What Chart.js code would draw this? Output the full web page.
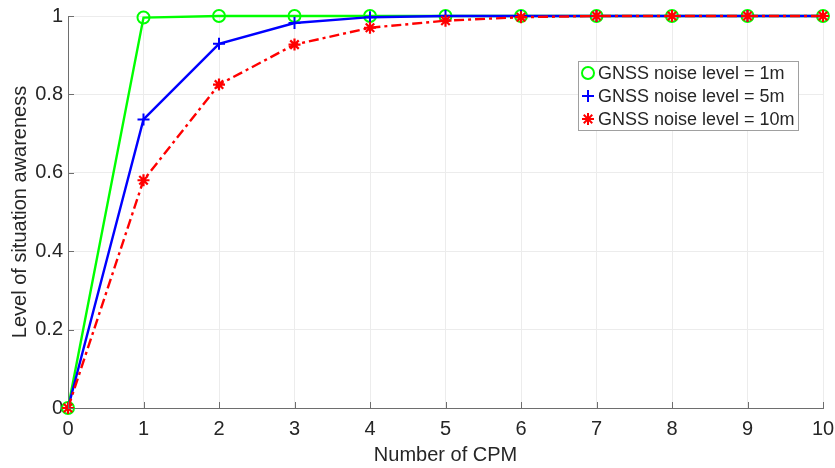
<!DOCTYPE html>
<html>
<head>
<meta charset="utf-8">
<script src="https://cdn.jsdelivr.net/npm/chart.js@4.4.1/dist/chart.umd.min.js"></script>
<style>
  body { margin: 0; background: #fff; }
  #wrap { width: 835px; height: 468px; }
</style>
</head>
<body>
<div id="wrap"><canvas id="awarenessChart" width="835" height="468"></canvas></div>
<script>
// data
const cpmCounts = [0, 1, 2, 3, 4, 5, 6, 7, 8, 9, 10];
const noise1m = [0, 0.996, 1, 1, 1, 1, 1, 1, 1, 1, 1];
const noise5m = [0, 0.736, 0.929, 0.982, 0.997, 1, 1, 1, 1, 1, 1];
const noise10m = [0, 0.581, 0.825, 0.927, 0.970, 0.988, 0.997, 1, 1, 1, 1];
const seriesLabels = ['GNSS noise level = 1m', 'GNSS noise level = 5m', 'GNSS noise level = 10m'];

const FONT = "'Liberation Sans', Arial, sans-serif";
const TEXT_COLOR = '#262626';
const AXIS_COLOR = '#6e6e6e';

function toPoints(values) {
    return cpmCounts.map((c, i) => ({ x: c, y: values[i] }));
}

// MATLAB-style inward tick marks + boxed legend inside the axes
const matlabExtras = {
    id: 'matlabExtras',
    afterDraw(chart) {
        const ctx = chart.ctx;
        const xs = chart.scales.x;
        const ys = chart.scales.y;
        const area = chart.chartArea;
        ctx.save();
        ctx.strokeStyle = AXIS_COLOR;
        ctx.lineWidth = 1;
        ctx.beginPath();
        xs.ticks.forEach(t => {
            const px = Math.round(xs.getPixelForValue(t.value)) + 0.5;
            ctx.moveTo(px, area.bottom);
            ctx.lineTo(px, area.bottom - 6);
        });
        ys.ticks.forEach(t => {
            const py = Math.round(ys.getPixelForValue(t.value)) + 0.5;
            ctx.moveTo(area.left, py);
            ctx.lineTo(area.left + 6, py);
        });
        ctx.stroke();

        // legend box
        const box = { x: 578, y: 61, w: 220, h: 69 };
        ctx.fillStyle = '#ffffff';
        ctx.fillRect(box.x, box.y, box.w, box.h);
        ctx.strokeStyle = '#a0a0a0';
        ctx.strokeRect(box.x + 0.5, box.y + 0.5, box.w, box.h);
        ctx.font = '18px ' + FONT;
        ctx.textBaseline = 'middle';
        ctx.textAlign = 'left';
        chart.data.datasets.forEach((ds, i) => {
            const cy = box.y + 12 + i * 23;
            ctx.strokeStyle = ds.borderColor;
            ctx.fillStyle = ds.pointStyle === 'circle' ? 'rgba(0,0,0,0)' : ds.borderColor;
            ctx.lineWidth = 2;
            Chart.helpers.drawPoint(ctx, {
                pointStyle: ds.pointStyle,
                radius: ds.pointRadius,
                rotation: 0,
                borderWidth: 2
            }, box.x + 10, cy);
            ctx.fillStyle = TEXT_COLOR;
            ctx.fillText(ds.label, box.x + 20, cy + 1);
        });
        ctx.restore();
    }
};

const ctx = document.getElementById('awarenessChart').getContext('2d');
new Chart(ctx, {
    type: 'line',
    data: {
        datasets: [
            {
                label: seriesLabels[0],
                data: toPoints(noise1m),
                borderColor: '#00ff00',
                backgroundColor: 'transparent',
                borderWidth: 2.4,
                pointStyle: 'circle',
                pointRadius: 6,
                pointBorderWidth: 2,
                pointBackgroundColor: 'transparent',
                order: 3,
                clip: false
            },
            {
                label: seriesLabels[1],
                data: toPoints(noise5m),
                borderColor: '#0000ff',
                backgroundColor: 'transparent',
                borderWidth: 2.4,
                pointStyle: 'cross',
                pointRadius: 6,
                pointBorderWidth: 2,
                order: 2,
                clip: false
            },
            {
                label: seriesLabels[2],
                data: toPoints(noise10m),
                borderColor: '#ff0000',
                backgroundColor: 'transparent',
                borderWidth: 2.4,
                borderDash: [10, 4, 3, 4],
                pointStyle: 'star',
                pointRadius: 6,
                pointBorderWidth: 2.2,
                order: 1,
                clip: false
            }
        ]
    },
    options: {
        responsive: false,
        animation: false,
        layout: { padding: { left: 0, right: 12, top: 16, bottom: 0 } },
        plugins: {
            legend: { display: false },
            tooltip: { enabled: false }
        },
        scales: {
            x: {
                type: 'linear',
                min: 0,
                max: 10,
                ticks: { stepSize: 1, color: TEXT_COLOR, font: { family: FONT, size: 20 }, padding: 9 },
                grid: { color: '#ececec', drawTicks: false },
                border: { color: AXIS_COLOR },
                title: { display: true, text: 'Number of CPM', color: TEXT_COLOR, font: { family: FONT, size: 20 }, padding: { top: 0, bottom: 1 } },
                afterFit: (scale) => {
                    scale.height = 60;
                    scale.paddingLeft = 0;
                    scale.paddingRight = 10;
                }
            },
            y: {
                min: 0,
                max: 1,
                ticks: {
                    stepSize: 0.2,
                    color: TEXT_COLOR,
                    font: { family: FONT, size: 20 },
                    padding: 5,
                    callback: (v) => String(Number(v.toFixed(1)))
                },
                grid: { color: '#ececec', drawTicks: false },
                border: { color: AXIS_COLOR },
                title: { display: true, text: 'Level of situation awareness', color: TEXT_COLOR, font: { family: FONT, size: 20 }, padding: { top: 8, bottom: 0 } },
                afterFit: (scale) => {
                    scale.width = 68;
                    scale.paddingTop = 10;
                    scale.paddingBottom = 0;
                }
            }
        }
    },
    plugins: [matlabExtras]
});
</script>
</body>
</html>
